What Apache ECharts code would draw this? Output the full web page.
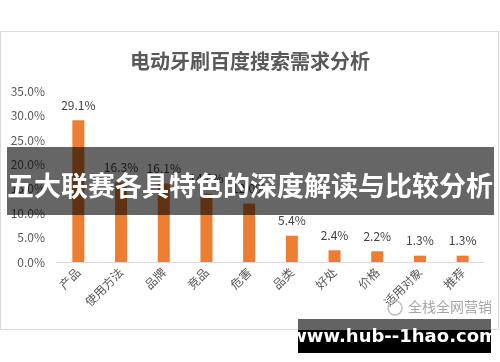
<!DOCTYPE html>
<html><head><meta charset="utf-8">
<script src="https://cdn.jsdelivr.net/npm/echarts@6/dist/echarts.min.js"></script>
<style>html,body{margin:0;padding:0;background:#fff}#c{width:500px;height:362px}</style>
</head><body><div id="c"></div>
<script>
var chartTitle = '电动牙刷百度搜索需求分析';
var categories = ['产品','使用方法','品牌','竞品','危害','品类','好处','价格','适用对象','推荐'];
var values = [29.1, 16.3, 16.1, 14.0, 12.0, 5.4, 2.4, 2.2, 1.3, 1.3];
var yTicks = [0, 5, 10, 15, 20, 25, 30, 35];
var bannerText = '五大联赛各具特色的深度解读与比较分析';
var siteText = 'www.hub--1hao.com';
var markText = '全栈全网营销';

var FONT = '"Noto Sans CJK SC", "Noto Sans", sans-serif';
var chart = echarts.init(document.getElementById('c'), null, {renderer: 'canvas'});
chart.setOption({
  animation: false,
  backgroundColor: '#fff',
  textStyle: {fontFamily: FONT},
  title: {
    text: chartTitle, left: 'center', top: 46,
    textStyle: {fontSize: 20, fontWeight: 'bold', color: '#595959', fontFamily: FONT}
  },
  grid: {left: 57, right: 16, top: 91.5, bottom: 100},
  xAxis: {
    type: 'category', data: categories,
    axisLine: {lineStyle: {color: '#d9d9d9'}},
    axisTick: {show: false},
    axisLabel: {rotate: 45, fontSize: 12, color: '#595959', margin: 8, interval: 0, fontFamily: FONT}
  },
  yAxis: {
    type: 'value', min: yTicks[0], max: yTicks[yTicks.length - 1], interval: 5,
    splitLine: {show: false},
    axisLine: {show: false}, axisTick: {show: false},
    axisLabel: {fontSize: 12, color: '#595959', margin: 12, fontFamily: FONT,
      formatter: function (v) { return v.toFixed(1) + '%'; }}
  },
  series: [{
    type: 'bar', data: values, barWidth: 12,
    itemStyle: {color: '#ED7D31'},
    label: {show: true, position: 'top', distance: 9, fontSize: 12, color: '#404040', fontFamily: FONT,
      formatter: function (p) { return p.value.toFixed(1) + '%'; }}
  }],
  graphic: [
    {type: 'rect', shape: {x: 0.5, y: 31.5, width: 498, height: 298}, style: {fill: 'none', stroke: '#d9d9d9', lineWidth: 1}, z: 0},
    {type: 'text', left: 408, top: 300, style: {text: markText, fontSize: 14, fill: '#a6a6a6', fontFamily: FONT}, z: 10},
    {type: 'circle', shape: {cx: 395, cy: 308, r: 7}, style: {fill: 'none', stroke: '#bfbfbf', lineWidth: 1.5}, z: 10},
    {type: 'rect', shape: {x: 7, y: 147, width: 487, height: 68}, style: {fill: 'rgba(0,0,0,0.6)'}, z: 100},
    {type: 'text', x: 250, y: 186, style: {text: bannerText, fontSize: 27, fontWeight: 'bold', fill: '#fff', align: 'center', verticalAlign: 'middle', fontFamily: FONT}, z: 101},
    {type: 'rect', shape: {x: 298, y: 319, width: 193, height: 11}, style: {fill: '#636363'}, z: 100},
    {type: 'rect', shape: {x: 298, y: 330, width: 193, height: 23}, style: {fill: '#000'}, z: 100},
    {type: 'text', x: 394, y: 337, style: {text: siteText, fontSize: 18, fontWeight: 'bold', fill: '#fff', align: 'center', verticalAlign: 'middle', fontFamily: '"DejaVu Sans", sans-serif'}, z: 101}
  ]
});
</script></body></html>
